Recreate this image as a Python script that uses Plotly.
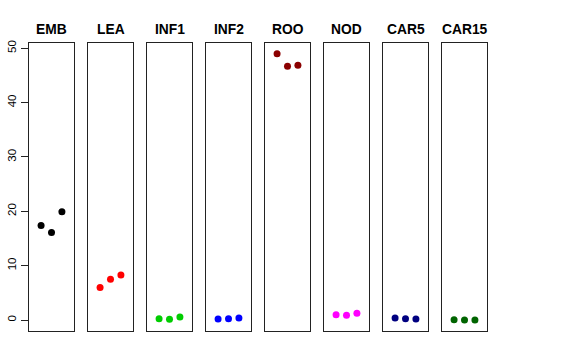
import plotly.graph_objects as go

tissues = ["EMB", "LEA", "INF1", "INF2", "ROO", "NOD", "CAR5", "CAR15"]
colors = ["#000000", "#FF0000", "#00CD00", "#0000FF", "#8B0000", "#FF00FF", "#000080", "#006400"]
replicates = [1, 2, 3]
values = [
    [17.4, 16.1, 19.9],
    [6.0, 7.5, 8.3],
    [0.25, 0.12, 0.55],
    [0.2, 0.25, 0.35],
    [49.0, 46.7, 46.9],
    [0.98, 0.86, 1.23],
    [0.37, 0.25, 0.18],
    [0.06, 0.02, 0.0],
]
y_ticks = [0, 10, 20, 30, 40, 50]

W, H = 576, 360
left0, pitch, pw = 29.0, 59.0, 45.0
top_px, bot_px = 42.7, 330.7

fig = go.Figure()
layout = dict(
    width=W, height=H, margin=dict(l=0, r=0, t=0, b=0, pad=0, autoexpand=False),
    paper_bgcolor="white", plot_bgcolor="white", showlegend=False,
    font=dict(family="Liberation Sans, Arial, sans-serif", color="black"),
)
annotations = []
for i, (name, col, vals) in enumerate(zip(tissues, colors, values)):
    ax = "" if i == 0 else str(i + 1)
    fig.add_trace(go.Scatter(
        x=replicates, y=vals, mode="markers",
        marker=dict(color=col, size=7, line=dict(width=0)),
        xaxis="x" + ax, yaxis="y" + ax, hoverinfo="skip",
    ))
    x0 = (left0 + pitch * i) / W
    x1 = (left0 + pitch * i + pw) / W
    layout["xaxis" + ax] = dict(
        domain=[x0, x1], range=[-0.16, 4.16], showgrid=False, zeroline=False,
        showticklabels=False, ticks="", showline=True, mirror=True,
        linecolor="#222", linewidth=1, anchor="y" + ax, fixedrange=True,
        automargin=False,
    )
    ydict = dict(
        domain=[1 - bot_px / H, 1 - top_px / H], range=[-1.97, 51.03],
        showgrid=False, zeroline=False, showline=True, mirror=True,
        linecolor="#222", linewidth=1, anchor="x" + ax, fixedrange=True,
        automargin=False,
    )
    if i == 0:
        ydict.update(
            tickmode="array", tickvals=y_ticks, ticktext=[str(t) for t in y_ticks],
            ticks="outside", ticklen=7, tickcolor="#222", tickwidth=1,
            tickangle=-90, tickfont=dict(size=11.5, color="black"),
        )
    else:
        ydict.update(showticklabels=False, ticks="")
    layout["yaxis" + ax] = ydict
    annotations.append(dict(
        x=(x0 + x1) / 2, y=1 - 29 / H, xref="paper", yref="paper",
        text="<b>" + name + "</b>", showarrow=False,
        font=dict(size=13.8, color="black"), xanchor="center", yanchor="middle",
    ))
layout["annotations"] = annotations
fig.update_layout(**layout)
fig.write_html(
    "out.html",
    config={"displayModeBar": False, "staticPlot": True},
    post_script="document.body.style.margin='0';document.body.style.overflow='hidden';",
)
